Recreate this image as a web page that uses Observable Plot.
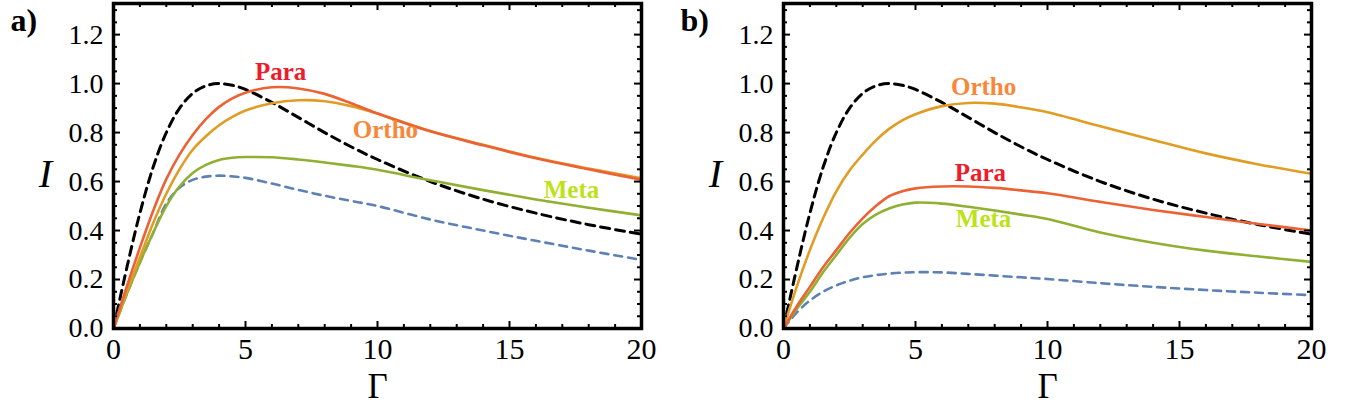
<!DOCTYPE html>
<html><head><meta charset="utf-8">
<script src="https://cdn.jsdelivr.net/npm/d3@7"></script>
<script src="https://cdn.jsdelivr.net/npm/@observablehq/plot@0.6"></script>
<style>
body{margin:0;background:#fff;}
#wrap{position:relative;width:1345px;height:408px;overflow:hidden;}
.panel{position:absolute;top:0;}
.panel text{font-family:"Liberation Serif","Times New Roman",serif !important;}
</style>
</head><body><div id="wrap"></div>
<script>
// Γ sample points
const gamma = [0, 0.5, 1, 1.5, 2, 2.5, 3, 3.5, 4, 4.5, 5, 6, 7, 8, 9, 10, 12, 14, 16, 18, 20];

// black dashed reference (both panels)
const reference = [0, 0.246, 0.471, 0.658, 0.800, 0.899, 0.960, 0.991, 1.000, 0.993, 0.976, 0.923, 0.862, 0.800, 0.742, 0.690, 0.600, 0.528, 0.471, 0.424, 0.385];

// panel a)
const aPara  = [0, 0.17, 0.33, 0.48, 0.61, 0.71, 0.79, 0.855, 0.905, 0.940, 0.963, 0.985, 0.980, 0.958, 0.920, 0.878, 0.805, 0.748, 0.695, 0.650, 0.607];
const aOrtho = [0, 0.15, 0.29, 0.43, 0.55, 0.65, 0.73, 0.785, 0.830, 0.864, 0.890, 0.920, 0.932, 0.928, 0.908, 0.878, 0.806, 0.750, 0.697, 0.653, 0.613];
const aMeta  = [0, 0.14, 0.27, 0.39, 0.50, 0.58, 0.635, 0.668, 0.688, 0.697, 0.700, 0.699, 0.690, 0.678, 0.664, 0.648, 0.605, 0.565, 0.527, 0.493, 0.462];
const aBase  = [0, 0.14, 0.27, 0.39, 0.51, 0.575, 0.607, 0.620, 0.624, 0.621, 0.615, 0.592, 0.566, 0.542, 0.521, 0.500, 0.445, 0.400, 0.358, 0.318, 0.280];

// panel b)
const bPara  = [0, 0.09, 0.17, 0.25, 0.32, 0.39, 0.45, 0.500, 0.540, 0.560, 0.572, 0.580, 0.580, 0.574, 0.564, 0.552, 0.517, 0.484, 0.455, 0.427, 0.400];
const bOrtho = [0, 0.17, 0.32, 0.45, 0.56, 0.645, 0.71, 0.768, 0.815, 0.850, 0.875, 0.908, 0.921, 0.918, 0.903, 0.883, 0.826, 0.770, 0.715, 0.670, 0.632];
const bMeta  = [0, 0.08, 0.15, 0.23, 0.30, 0.37, 0.427, 0.465, 0.490, 0.506, 0.514, 0.510, 0.497, 0.482, 0.465, 0.447, 0.392, 0.350, 0.318, 0.294, 0.272];
const bBase  = [0, 0.065, 0.114, 0.150, 0.176, 0.195, 0.209, 0.218, 0.224, 0.228, 0.230, 0.229, 0.223, 0.216, 0.209, 0.202, 0.185, 0.170, 0.157, 0.146, 0.136];

// curve labels
const labelNames = ["Para", "Ortho", "Meta"];
const aLabelX = [6.33, 10.3, 17.35];
const aLabelY = [1.016, 0.776, 0.531];
const bLabelX = [7.46, 7.58, 7.58];
const bLabelY = [0.604, 0.955, 0.416];

// ticks
const xMajor = [0, 5, 10, 15, 20];
const xMinor = [1, 2, 3, 4, 6, 7, 8, 9, 11, 12, 13, 14, 16, 17, 18, 19];
const yMajor = [0, 0.2, 0.4, 0.6, 0.8, 1.0, 1.2];
const yMinor = [0.05, 0.1, 0.15, 0.25, 0.3, 0.35, 0.45, 0.5, 0.55, 0.65, 0.7, 0.75, 0.85, 0.9, 0.95, 1.05, 1.1, 1.15, 1.25, 1.3];

const lineColor = {Para: "#EB6235", Ortho: "#E19C24", Meta: "#8FB032"};
const textColor = {Para: "#ED1C2A", Ortho: "#F8873A", Meta: "#BCE21A"};

const W = 672, H = 408, mL = 113, mR = 31, mT = 3, mB = 80;
const iw = W - mL - mR, ih = H - mT - mB;
const serif = "Liberation Serif";

function rows(ys) { return gamma.map((g, i) => ({g, v: ys[i]})); }

function panel(letter, para, ortho, meta, base, lx, ly) {
  const labels = labelNames.map((n, i) => ({n, x: lx[i], y: ly[i]}));
  const tickStyle = {stroke: "black", strokeWidth: 2};
  const curve = "catmull-rom";
  return Plot.plot({
    width: W, height: H,
    marginLeft: mL, marginRight: mR, marginTop: mT, marginBottom: mB,
    x: {domain: [0, 20]},
    y: {domain: [0, 1.327]},
    style: {fontFamily: serif, background: "white", overflow: "visible"},
    marks: [
      Plot.line(rows(reference), {x: "g", y: "v", stroke: "black", strokeWidth: 3, strokeDasharray: "9,6", curve}),
      Plot.line(rows(base), {x: "g", y: "v", stroke: "#5E81B5", strokeWidth: 2.6, strokeDasharray: "8,6", curve}),
      Plot.line(rows(meta), {x: "g", y: "v", stroke: lineColor.Meta, strokeWidth: 2.6, curve}),
      Plot.line(rows(ortho), {x: "g", y: "v", stroke: lineColor.Ortho, strokeWidth: 2.6, curve}),
      Plot.line(rows(para), {x: "g", y: "v", stroke: lineColor.Para, strokeWidth: 2.6, curve}),
      // inward frame ticks
      Plot.tickX(xMinor, {x: d => d, insetTop: ih - 4, ...tickStyle}),
      Plot.tickX(xMinor, {x: d => d, insetBottom: ih - 4, ...tickStyle}),
      Plot.tickX(xMajor, {x: d => d, insetTop: ih - 7, ...tickStyle}),
      Plot.tickX(xMajor, {x: d => d, insetBottom: ih - 7, ...tickStyle}),
      Plot.tickY(yMinor, {y: d => d, insetRight: iw - 4, ...tickStyle}),
      Plot.tickY(yMinor, {y: d => d, insetLeft: iw - 4, ...tickStyle}),
      Plot.tickY(yMajor, {y: d => d, insetRight: iw - 7, ...tickStyle}),
      Plot.tickY(yMajor, {y: d => d, insetLeft: iw - 7, ...tickStyle}),
      Plot.frame({stroke: "black", strokeWidth: 3.5}),
      Plot.axisX({ticks: xMajor, tickSize: 0, tickPadding: 9, fontSize: 30, fontFamily: serif, label: null, fill: "black"}),
      Plot.axisY({ticks: yMajor, tickSize: 0, tickPadding: 10, fontSize: 28, fontFamily: serif, tickFormat: d3.format(".1f"), label: null, fill: "black"}),
      Plot.text(labels, {x: "x", y: "y", text: "n", fill: d => textColor[d.n], fontWeight: "bold", fontSize: 25, fontFamily: serif, lineAnchor: "bottom", textAnchor: "middle"}),
      Plot.text(["Γ"], {frameAnchor: "bottom", dy: 69, fontSize: 35, fontFamily: serif, lineAnchor: "bottom", fill: "black"}),
      Plot.text(["I"], {frameAnchor: "left", dx: -68, dy: 8, fontSize: 40, fontFamily: serif, fontStyle: "italic", textAnchor: "middle", fill: "black"}),
      Plot.text([letter], {frameAnchor: "top-left", dx: -103, dy: 27, fontSize: 32, fontFamily: serif, fontWeight: "bold", textAnchor: "start", lineAnchor: "bottom", fill: "black"})
    ]
  });
}

const wrap = document.getElementById("wrap");
const pa = panel("a)", aPara, aOrtho, aMeta, aBase, aLabelX, aLabelY);
pa.classList.add("panel"); pa.style.left = "0px";
const pb = panel("b)", bPara, bOrtho, bMeta, bBase, bLabelX, bLabelY);
pb.classList.add("panel"); pb.style.left = "670px";
wrap.appendChild(pa);
wrap.appendChild(pb);
</script>
</body></html>
